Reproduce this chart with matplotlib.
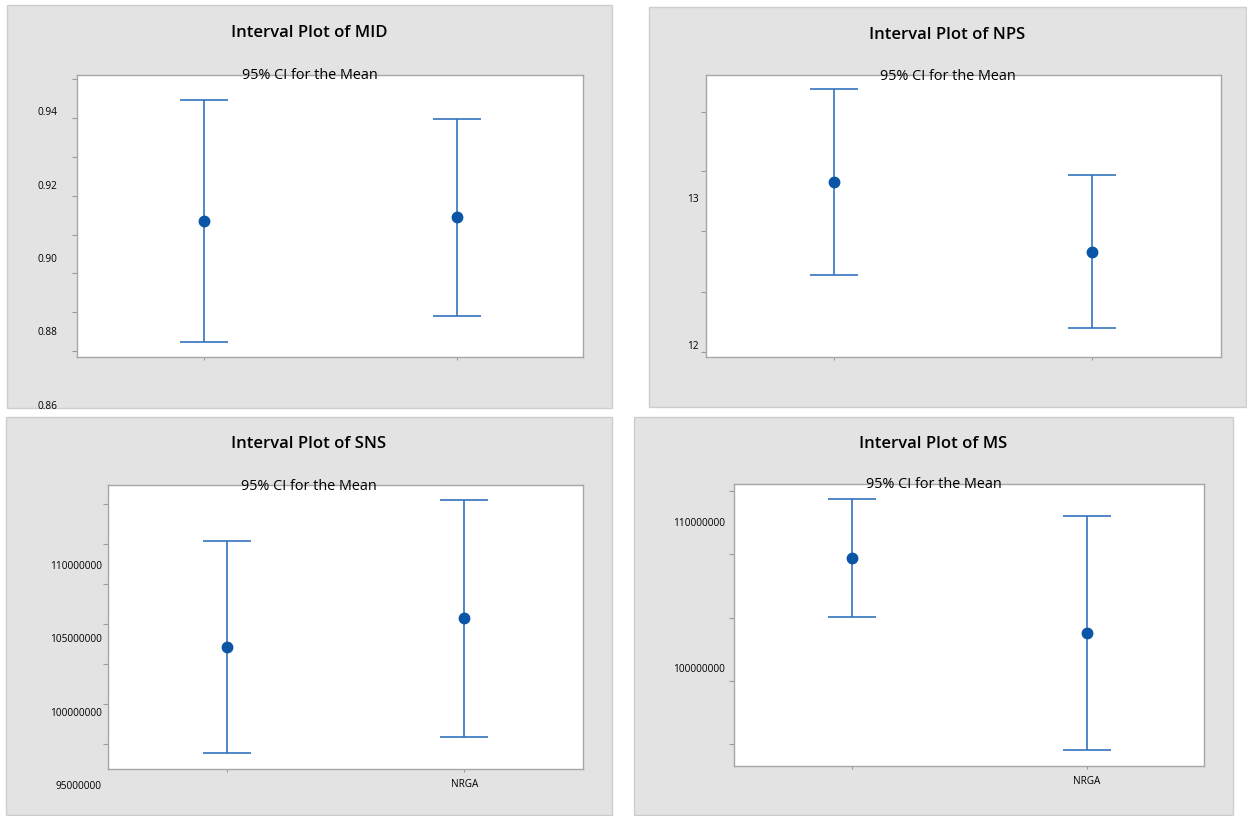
import matplotlib.pyplot as plt
from matplotlib.patches import Rectangle

plt.rcParams['font.family'] = ['Open Sans', 'DejaVu Sans']

W, H = 1247, 816

# group labels (first one is blank in the screenshot)
groups = ['', 'NRGA']
xpos = [0, 1]

# MID
mid_mean = [0.9105, 0.9116]
mid_low = [0.8774, 0.8846]
mid_high = [0.9435, 0.9384]
mid_ticks = [0.9493, 0.9386, 0.9280, 0.9174, 0.9068, 0.8962, 0.8856, 0.8751]
mid_labels = [0.94, 0.92, 0.90, 0.88, 0.86]
mid_ylim = (0.8734, 0.9503)

# NPS
nps_mean = [13.118, 12.641]
nps_low = [12.485, 12.124]
nps_high = [13.748, 13.161]
nps_ticks = [13.592, 13.188, 12.782, 12.365, 11.961]
nps_labels = [13, 12]
nps_ylim = (11.928, 13.846)

# SNS
sns_mean = [104.50e6, 106.49e6]
sns_low = [97.31e6, 98.37e6]
sns_high = [111.70e6, 114.48e6]
sns_ticks = [114.19e6, 111.49e6, 108.80e6, 106.06e6, 103.37e6, 100.65e6, 97.94e6]
sns_labels = [110000000, 105000000, 100000000, 95000000]
sns_ylim = (96.24e6, 115.52e6)

# MS
ms_mean = [107.68e6, 102.55e6]
ms_low = [103.62e6, 94.51e6]
ms_high = [111.67e6, 110.53e6]
ms_ticks = [112.26e6, 107.91e6, 103.58e6, 99.25e6, 94.94e6]
ms_labels = [110000000, 100000000]
ms_ylim = (93.44e6, 112.73e6)

line_col = '#3472BE'
dot_col = '#0A55A5'
panel_col = '#E3E3E3'

fig = plt.figure(figsize=(W / 100, H / 100), dpi=100)
fig.patch.set_facecolor('white')


def px_rect(x0, y0, x1, y1):
    return [x0 / W, 1 - y1 / H, (x1 - x0) / W, (y1 - y0) / H]


def interval_panel(name, mean, low, high, ticks, labels, fmt, ylim,
                   panel, box, gap, title_y, sub_y, show_groups):
    r = px_rect(*panel)
    fig.add_artist(Rectangle((r[0], r[1]), r[2], r[3], transform=fig.transFigure,
                             facecolor=panel_col, edgecolor='#CDCDCD', lw=1, zorder=-5))
    ax = fig.add_axes(px_rect(*box))
    ax.set_facecolor('white')
    yerr = [[m - l for m, l in zip(mean, low)], [h - m for m, h in zip(mean, high)]]
    ax.errorbar(xpos, mean, yerr=yerr, fmt='o', color=dot_col, ecolor=line_col,
                elinewidth=1.2, capthick=1.2, capsize=17.3, markersize=7.5)
    ax.set_xlim(-0.5, 1.5)
    ax.set_ylim(*ylim)
    ax.set_yticks(ticks)
    ax.set_yticklabels([])
    ax.set_xticks(xpos)
    ax.set_xticklabels(groups if show_groups else ['', ''], fontsize=7.2)
    ax.tick_params(axis='y', length=3.8, width=0.8, color='#9A9A9A')
    ax.tick_params(axis='x', length=2.5, width=0.8, color='#9A9A9A', pad=5)
    for s in ax.spines.values():
        s.set_color('#A6A6A6')
        s.set_linewidth(1)
    # value labels sit off the tick marks in the source image
    for v in labels:
        ax.annotate(fmt % v, xy=(0, v), xycoords=('axes fraction', 'data'),
                    xytext=(-gap * 0.72, 0), textcoords='offset points',
                    ha='right', va='center', fontsize=7.3, annotation_clip=False)
    cx = (panel[0] + panel[2]) / 2 / W
    fig.text(cx, 1 - title_y / H, 'Interval Plot of ' + name, ha='center', va='center',
             fontsize=12, fontweight='semibold')
    fig.text(cx, 1 - sub_y / H, '95% CI for the Mean', ha='center', va='center',
             fontsize=10.4)
    return ax


interval_panel('MID', mid_mean, mid_low, mid_high, mid_ticks, mid_labels, '%.2f', mid_ylim,
               (7, 5, 612, 408), (77, 75, 583, 357), 20, 33.3, 75.3, False)
interval_panel('NPS', nps_mean, nps_low, nps_high, nps_ticks, nps_labels, '%d', nps_ylim,
               (649, 7, 1246, 407), (705.7, 74.7, 1220.7, 356.7), 7, 35, 76, False)
interval_panel('SNS', sns_mean, sns_low, sns_high, sns_ticks, sns_labels, '%d', sns_ylim,
               (6, 416.7, 611.7, 815), (107.7, 484.7, 583.3, 768.7), 6, 444, 486.3, True)
interval_panel('MS', ms_mean, ms_low, ms_high, ms_ticks, ms_labels, '%d', ms_ylim,
               (634, 416.7, 1233, 815), (734.3, 483.7, 1204.3, 766), 9, 444, 485, True)

fig.savefig('out.png', dpi=100)
